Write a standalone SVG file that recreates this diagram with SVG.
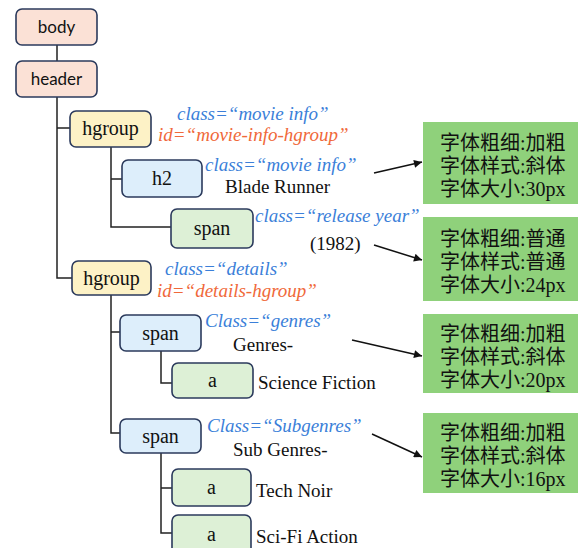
<svg xmlns="http://www.w3.org/2000/svg" width="579" height="548" viewBox="0 0 579 548">
<defs>
<marker id="ah" viewBox="0 0 10 10" refX="10" refY="5" markerWidth="11" markerHeight="8" orient="auto" markerUnits="userSpaceOnUse"><path d="M0,0 L10,5 L0,10 z" fill="#111"/></marker>
</defs>
<style>
.n{stroke:#2b3a5c;stroke-width:1.6}
.peach{fill:#fbe1d6}.yel{fill:#fdf2c6}.blu{fill:#ddeefb}.grn{fill:#ddf0d6}
.lbl{font-family:"Liberation Serif",serif;font-size:20px;fill:#111;text-anchor:middle}
.sans{font-family:"Lato","Liberation Sans",sans-serif;font-size:17px}
.at{font-family:"Liberation Serif",serif;font-style:italic;font-size:19px}
.b{fill:#3b7fd9}.o{fill:#f0693a}
.tx{font-family:"Liberation Serif",serif;font-size:19px;fill:#111}
.gb{fill:#8fd17b}
.cn{font-family:"Liberation Serif","Noto Sans CJK SC",serif;font-size:20px;fill:#111}
.ln{fill:none;stroke:#222;stroke-width:1.5}
.ar{fill:none;stroke:#111;stroke-width:1.5;marker-end:url(#ah)}
</style>
<g id="connectors">
<path class="ln" d="M57,45 V61 M57,97 V278 H72 M57,128 H70 M111,147 V227 H171 M111,179 H122 M111,295 V433 H120 M111,332 H120 M161,351 V383 H172 M161,453 V533 H172 M161,488 H172"/>
<path class="ar" d="M374,173 L422,162"/>
<path class="ar" d="M374,245 L422,260"/>
<path class="ar" d="M352,340 L422,356"/>
<path class="ar" d="M372,434 L422,457"/>
</g>
<g id="body"><rect class="n peach" x="16" y="9" width="81" height="36" rx="6"/><text class="lbl sans" x="56.5" y="33">body</text></g>
<g id="header"><rect class="n peach" x="16" y="61" width="81" height="36" rx="6"/><text class="lbl sans" x="56.5" y="85">header</text></g>
<g id="hgroup1"><rect class="n yel" x="70" y="111" width="81" height="36" rx="6"/><text class="lbl" x="110.5" y="135">hgroup</text>
<text class="at b" x="177" y="120">class=“movie info”</text><text class="at o" x="158" y="141">id=“movie-info-hgroup”</text></g>
<g id="h2"><rect class="n blu" x="122" y="160" width="80" height="37" rx="6"/><text class="lbl" x="162" y="185">h2</text>
<text class="at b" x="205" y="171">class=“movie info”</text><text class="tx" x="225" y="193">Blade Runner</text></g>
<g id="span1"><rect class="n grn" x="171" y="209" width="82" height="39" rx="6"/><text class="lbl" x="212" y="235">span</text>
<text class="at b" x="255" y="222">class=“release year”</text><text class="tx" x="310" y="250">(1982)</text></g>
<g id="hgroup2"><rect class="n yel" x="72" y="261" width="79" height="34" rx="6"/><text class="lbl" x="111.5" y="285">hgroup</text>
<text class="at b" x="165" y="275">class=“details”</text><text class="at o" x="157" y="297">id=“details-hgroup”</text></g>
<g id="span2"><rect class="n blu" x="120" y="315" width="81" height="36" rx="6"/><text class="lbl" x="160.5" y="340">span</text>
<text class="at b" x="205" y="327">Class=“genres”</text><text class="tx" x="233" y="351">Genres-</text></g>
<g id="a1"><rect class="n grn" x="172" y="363" width="81" height="35" rx="6"/><text class="lbl" x="212.5" y="387">a</text>
<text class="tx" x="258" y="389">Science Fiction</text></g>
<g id="span3"><rect class="n blu" x="120" y="419" width="81" height="34" rx="6"/><text class="lbl" x="160.5" y="443">span</text>
<text class="at b" x="207" y="432">Class=“Subgenres”</text><text class="tx" x="233" y="456">Sub Genres-</text></g>
<g id="a2"><rect class="n grn" x="172" y="469" width="79" height="37" rx="6"/><text class="lbl" x="211.5" y="494">a</text>
<text class="tx" x="256" y="497">Tech Noir</text></g>
<g id="a3"><rect class="n grn" x="172" y="515" width="79" height="40" rx="6"/><text class="lbl" x="211.5" y="541">a</text>
<text class="tx" x="256" y="543">Sci-Fi Action</text></g>
<g id="style1"><rect class="gb" x="423" y="122" width="155" height="82"/>
<text class="cn" x="440" y="150">字体粗细:加粗</text><text class="cn" x="440" y="173">字体样式:斜体</text><text class="cn" x="440" y="196">字体大小:30px</text></g>
<g id="style2"><rect class="gb" x="423" y="217" width="155" height="84"/>
<text class="cn" x="440" y="246">字体粗细:普通</text><text class="cn" x="440" y="269">字体样式:普通</text><text class="cn" x="440" y="292">字体大小:24px</text></g>
<g id="style3"><rect class="gb" x="423" y="314" width="155" height="79"/>
<text class="cn" x="440" y="341">字体粗细:加粗</text><text class="cn" x="440" y="364">字体样式:斜体</text><text class="cn" x="440" y="387">字体大小:20px</text></g>
<g id="style4"><rect class="gb" x="423" y="413" width="155" height="80"/>
<text class="cn" x="440" y="440">字体粗细:加粗</text><text class="cn" x="440" y="463">字体样式:斜体</text><text class="cn" x="440" y="486">字体大小:16px</text></g>
</svg>
